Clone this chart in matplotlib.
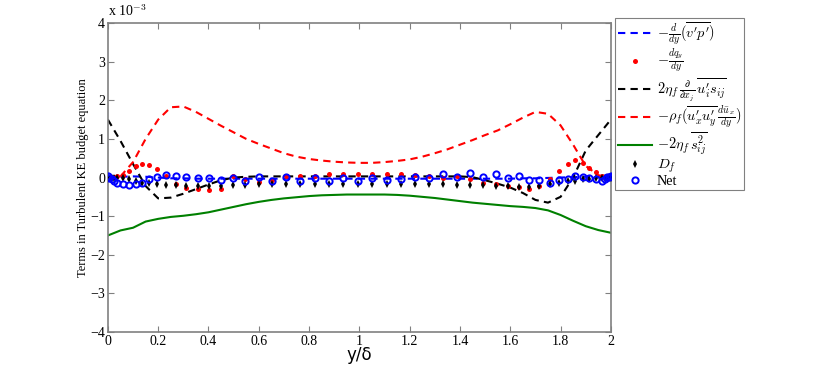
import matplotlib
matplotlib.use("Agg")
import matplotlib.pyplot as plt
import numpy as np

plt.rcParams['mathtext.fontset'] = 'cm'
plt.rcParams['font.family'] = ['Liberation Serif', 'DejaVu Serif']

# ---- line data (values in units of 1e-3) ----
x_line = [0.00, 0.05, 0.10, 0.15, 0.20, 0.25, 0.30, 0.35, 0.40, 0.45,
          0.50, 0.55, 0.60, 0.65, 0.70, 0.75, 0.80, 0.85, 0.90, 0.95,
          1.00, 1.05, 1.10, 1.15, 1.20, 1.25, 1.30, 1.35, 1.40, 1.45,
          1.50, 1.55, 1.60, 1.65, 1.70, 1.75, 1.80, 1.85, 1.90, 1.95, 2.00]

# -d/dy(v'p')
vp_term = [0.00, 0.02, 0.03, 0.02, 0.00, -0.02, -0.02, -0.03, -0.03, -0.03,
           -0.03, -0.03, -0.03, -0.03, -0.03, -0.03, -0.03, -0.03, -0.03, -0.03,
           -0.03, -0.03, -0.03, -0.03, -0.03, -0.03, -0.03, -0.03, -0.03, -0.03,
           -0.03, -0.03, -0.03, -0.02, -0.02, -0.01, 0.00, 0.01, 0.02, 0.01, 0.00]

# 2 eta_f d/dx_j (u_i' s_ij)
visc_diff = [1.50, 0.95, 0.35, -0.22, -0.54, -0.52, -0.42, -0.30, -0.18, -0.07,
             0.00, 0.02, 0.03, 0.03, 0.03, 0.03, 0.03, 0.03, 0.03, 0.03,
             0.03, 0.03, 0.03, 0.03, 0.03, 0.03, 0.03, 0.03, 0.03, 0.01,
             -0.07, -0.16, -0.26, -0.40, -0.58, -0.65, -0.50, 0.00, 0.70, 1.10, 1.50]

# -rho_f (u_x' u_y' du_x/dy)
production = [0.00, 0.03, 0.40, 1.00, 1.50, 1.82, 1.84, 1.70, 1.52, 1.34,
              1.17, 1.00, 0.87, 0.75, 0.63, 0.54, 0.48, 0.44, 0.41, 0.39,
              0.38, 0.38, 0.40, 0.43, 0.47, 0.54, 0.63, 0.73, 0.85, 0.97,
              1.10, 1.22, 1.38, 1.55, 1.70, 1.65, 1.35, 0.85, 0.30, 0.06, 0.00]

# -2 eta_f s_ij^2
dissipation = [-1.50, -1.37, -1.30, -1.14, -1.07, -1.02, -0.99, -0.95, -0.90, -0.83,
               -0.76, -0.69, -0.63, -0.58, -0.54, -0.51, -0.48, -0.46, -0.45, -0.44,
               -0.44, -0.44, -0.44, -0.45, -0.47, -0.50, -0.53, -0.57, -0.61, -0.65,
               -0.68, -0.71, -0.74, -0.76, -0.79, -0.85, -0.97, -1.12, -1.26, -1.36, -1.43]

# ---- marker data (values in units of 1e-3) ----
x_pts = [0.000, 0.006, 0.015, 0.025, 0.037, 0.062, 0.085, 0.110, 0.135, 0.163,
         0.196, 0.233, 0.270, 0.310, 0.357, 0.402, 0.448, 0.497, 0.547, 0.600,
         0.653, 0.707, 0.764, 0.822, 0.879, 0.936, 0.994, 1.052, 1.108, 1.165,
         1.222, 1.278, 1.333, 1.388, 1.441, 1.492, 1.543, 1.590, 1.634, 1.676,
         1.716, 1.759, 1.795, 1.830, 1.856, 1.888, 1.914, 1.940, 1.963, 1.975,
         1.985, 1.994, 2.000]

# -dq_y/dy
dq_term = [0.00, 0.00, 0.01, 0.02, 0.03, 0.07, 0.17, 0.30, 0.35, 0.32,
           0.22, 0.05, -0.17, -0.26, -0.29, -0.33, -0.30, 0.03, -0.05, -0.11,
           -0.07, 0.03, 0.03, 0.04, 0.09, 0.10, 0.10, 0.10, 0.10, 0.09,
           0.07, 0.05, -0.02, 0.04, -0.04, -0.13, -0.17, -0.22, -0.24, -0.29,
           -0.22, -0.05, 0.16, 0.36, 0.45, 0.38, 0.25, 0.14, 0.05, 0.02,
           0.01, 0.00, 0.00]

# D_f
d_f = [0.00, 0.00, 0.00, 0.00, 0.00, -0.01, -0.04, -0.09, -0.13, -0.13,
       -0.17, -0.19, -0.19, -0.22, -0.22, -0.22, -0.22, -0.19, -0.19, -0.17,
       -0.17, -0.17, -0.17, -0.17, -0.17, -0.17, -0.17, -0.17, -0.17, -0.17,
       -0.17, -0.17, -0.17, -0.19, -0.19, -0.19, -0.22, -0.22, -0.24, -0.24,
       -0.22, -0.16, -0.13, -0.09, -0.09, -0.04, -0.04, -0.02, 0.00, 0.00,
       0.00, 0.00, 0.00]

# Net
net = [0.03, 0.00, -0.05, -0.10, -0.15, -0.17, -0.19, -0.17, -0.13, -0.04,
       0.02, 0.07, 0.04, 0.02, -0.02, -0.02, -0.07, -0.02, -0.10, 0.02,
       -0.09, 0.02, -0.09, 0.00, -0.10, -0.02, -0.10, -0.02, -0.07, -0.04,
       0.02, 0.00, 0.09, 0.02, 0.13, 0.02, 0.10, 0.00, 0.04, -0.07,
       -0.07, -0.13, -0.07, -0.04, 0.04, 0.02, 0.00, -0.04, -0.09, -0.04,
       0.02, 0.02, 0.04]

labels = [r"$-\frac{d}{dy}(\overline{v'p'})$",
          r"$-\frac{dq_y}{dy}$",
          r"$2\eta_f\,\frac{\partial}{\partial x_j}\,\overline{u_i' s_{ij}}$",
          r"$-\rho_f(\overline{u_x' u_y'}\,\frac{d\bar{u}_x}{dy})$",
          r"$-2\eta_f\,\overline{s_{ij}^2}$",
          r"$D_f$",
          "Net"]

fig = plt.figure(figsize=(8.3, 3.72), dpi=100)
ax = fig.add_axes([0.130, 0.1075, 0.606, 0.8305])

dash = (0, (3.5, 2.5))
ax.plot(x_line, vp_term, color='#0000ff', lw=1.5, ls=dash, label=labels[0], zorder=2)
ax.plot(x_pts, dq_term, ls='none', marker='o', ms=3.6, color='#ff0000',
        markeredgewidth=0, label=labels[1], zorder=3)
ax.plot(x_line, visc_diff, color='black', lw=1.5, ls=dash, label=labels[2], zorder=2)
ax.plot(x_line, production, color='#ff0000', lw=1.5, ls=dash, label=labels[3], zorder=2)
ax.plot(x_line, dissipation, color='#008000', lw=1.5, ls='-', label=labels[4], zorder=2)
ax.plot(x_pts, d_f, ls='none', marker='d', ms=4, color='black',
        markeredgewidth=0, label=labels[5], zorder=4)
ax.plot(x_pts, net, ls='none', marker='o', ms=4.5, mfc='none', mec='#0000ff',
        mew=1.4, label=labels[6], zorder=5)

ax.set_xlim(0, 2)
ax.set_ylim(-4, 4)
ax.set_xticks(np.arange(0, 2.01, 0.2))
ax.set_xticklabels(['0', '0.2', '0.4', '0.6', '0.8', '1', '1.2', '1.4', '1.6', '1.8', '2'])
ax.set_yticks(np.arange(-4, 4.01, 1))
ax.set_yticklabels(['\u22124', '\u22123', '\u22122', '\u22121', '0', '1', '2', '3', '4'])
ax.tick_params(direction='in', length=4, width=0.8, color='#808080',
               labelsize=10, pad=2, top=True, right=True)
for s in ax.spines.values():
    s.set_color('#808080')
    s.set_linewidth(1.2)

ax.set_xlabel('y/\u03b4', fontsize=12, family=['DejaVu Sans'], labelpad=-1)
ax.set_ylabel('Terms in Turbulent KE budget equation', fontsize=9, labelpad=1)
ax.text(0.0, 1.012, r'x 10$^{-3}$', transform=ax.transAxes, fontsize=10,
        ha='left', va='bottom')

leg = fig.legend(loc='upper left', bbox_to_anchor=(0.741, 0.952), fontsize=10.3,
                 frameon=True, fancybox=False, edgecolor='#606060',
                 handlelength=2.4, handletextpad=0.3, borderpad=0.2,
                 labelspacing=0.0, borderaxespad=0, handleheight=0.5)
leg.get_frame().set_linewidth(0.8)

fig.savefig('out.png', dpi=100)
